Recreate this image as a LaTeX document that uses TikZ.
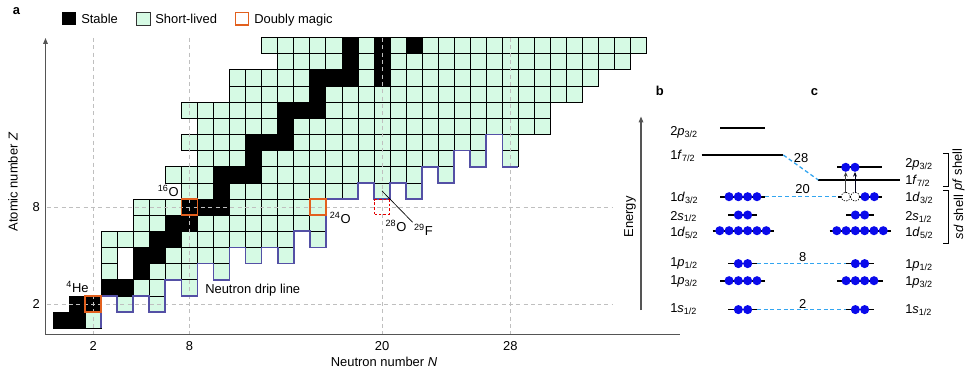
\documentclass[tikz,border=0pt]{standalone}
\usepackage{fontspec}
\setmainfont{Liberation Sans}
\usetikzlibrary{arrows.meta}
\definecolor{mint}{RGB}{214,250,228}
\definecolor{magic}{RGB}{226,96,30}
\definecolor{drip}{RGB}{84,80,165}
\definecolor{dotblue}{RGB}{10,10,235}
\definecolor{conn}{RGB}{50,165,240}
\definecolor{axisgray}{RGB}{85,85,85}
\tikzset{
  cellg/.style={fill=mint,draw=black,line width=0.55pt},
  cellb/.style={fill=black,draw=black,line width=0.55pt},
  magicbox/.style={draw=magic,line width=1.1pt},
  guide/.style={draw=gray!50,dash pattern=on 3pt off 2.5pt,line width=0.6pt},
  dripline/.style={draw=drip,line width=1.3pt,line join=miter},
  axisline/.style={draw=axisgray,line width=0.8pt},
  level/.style={draw=black,line width=1.3pt},
  electron/.style={fill=dotblue,draw=none},
  hole/.style={draw=black,dash pattern=on 1pt off 1pt,fill=white,line width=0.5pt},
  shellconn/.style={draw=conn,dash pattern=on 3pt off 2pt,line width=0.95pt},
  lbl/.style={inner sep=0pt,anchor=base west},
  clbl/.style={inner sep=0pt,anchor=base},
}
\newcommand\mrun[3]{\foreach \n in {#2,...,#3}{\path[cellg] (\n-0.5,#1-0.5) rectangle ++(1,1);}}
\newcommand\srun[3]{\foreach \n in {#2,...,#3}{\path[cellb] (\n-0.5,#1-0.5) rectangle ++(1,1);}}
\newcommand\edots[3]{\foreach \k in {1,...,#3}{\fill[electron] ({#1+(\k-(#3+1)/2)*9.3},#2) circle (3.4pt);}}
\begin{document}
\begin{tikzpicture}[x=0.75pt,y=-0.75pt,font=\fontsize{9.7}{11.6}\selectfont]
\useasboundingbox (0,0) rectangle (978,374);

% ---------- legend ----------
\node[lbl,font=\fontsize{9.7}{11.6}\selectfont\bfseries] (pa) at (12.7,15) {a};
\fill[black] (62,12) rectangle (75.5,25.3);
\node[lbl] (lgs) at (81,23.3) {Stable};
\draw[fill=mint,draw=black!80,line width=0.6pt] (136.5,12) rectangle (150,25.3);
\node[lbl] (lgl) at (155,23.3) {Short-lived};
\draw[fill=white,draw=magic,line width=1pt] (235.3,12.3) rectangle (248.5,25);
\node[lbl] (lgm) at (254,23.3) {Doubly magic};

% ---------- nuclide chart ----------
\begin{scope}[shift={(45.75pt,-252.225pt)},x=12.0375pt,y=12.1125pt]
\srun{1}{0}{1} \mrun{1}{2}{2}
\srun{2}{1}{2} \mrun{2}{4}{4} \mrun{2}{6}{6}
\srun{3}{3}{4} \mrun{3}{5}{6} \mrun{3}{8}{8}
\mrun{4}{3}{3} \srun{4}{5}{5} \mrun{4}{6}{8} \mrun{4}{10}{10}
\mrun{5}{3}{3} \srun{5}{5}{6} \mrun{5}{7}{10} \mrun{5}{12}{12} \mrun{5}{14}{14}
\mrun{6}{3}{5} \srun{6}{6}{7} \mrun{6}{8}{14} \mrun{6}{16}{16}
\mrun{7}{5}{6} \srun{7}{7}{8} \mrun{7}{9}{16}
\mrun{8}{5}{7} \srun{8}{8}{10} \mrun{8}{11}{16}
\mrun{9}{8}{9} \srun{9}{10}{10} \mrun{9}{11}{18} \mrun{9}{20}{20} \mrun{9}{22}{22}
\mrun{10}{7}{9} \srun{10}{10}{12} \mrun{10}{13}{22} \mrun{10}{24}{24}
\mrun{11}{9}{11} \srun{11}{12}{12} \mrun{11}{13}{24} \mrun{11}{26}{26} \mrun{11}{28}{28}
\mrun{12}{8}{11} \srun{12}{12}{14} \mrun{12}{15}{26} \mrun{12}{28}{28}
\mrun{13}{9}{13} \srun{13}{14}{14} \mrun{13}{15}{30}
\mrun{14}{8}{13} \srun{14}{14}{16} \mrun{14}{17}{30}
\mrun{15}{11}{15} \srun{15}{16}{16} \mrun{15}{17}{32}
\mrun{16}{11}{15} \srun{16}{16}{18} \mrun{16}{19}{19} \srun{16}{20}{20} \mrun{16}{21}{33}
\mrun{17}{14}{17} \srun{17}{18}{18} \mrun{17}{19}{19} \srun{17}{20}{20} \mrun{17}{21}{35}
\mrun{18}{13}{17} \srun{18}{18}{18} \mrun{18}{19}{19} \srun{18}{20}{20} \mrun{18}{21}{21} \srun{18}{22}{22} \mrun{18}{23}{36}
\coordinate (f29) at (20,9);
\end{scope}

% guide lines
\foreach \gx in {93.1,189.4,382,510.4}{\draw[guide] (\gx,38) -- (\gx,334);}
\foreach \gy in {304,207.1}{\draw[guide] (47,\gy) -- (612,\gy);}

\begin{scope}[shift={(45.75pt,-252.225pt)},x=12.0375pt,y=12.1125pt]
\draw[dripline] (2.5,0.5)--(2.5,2.5)--(3.5,2.5)--(3.5,1.5)--(4.5,1.5)--(4.5,2.5)--(5.5,2.5)--(5.5,1.5)--(6.5,1.5)--(6.5,3.5)--(7.5,3.5)--(7.5,2.5)--(8.5,2.5)--(8.5,4.5)--(9.5,4.5)--(9.5,3.5)--(10.5,3.5)--(10.5,5.5)--(11.5,5.5)--(11.5,4.5)--(12.5,4.5)--(12.5,5.5)--(13.5,5.5)--(13.5,4.5)--(14.5,4.5)--(14.5,6.5)--(15.5,6.5)--(15.5,5.5)--(16.5,5.5)--(16.5,8.5)--(18.5,8.5)--(18.5,9.5)--(19.5,9.5)--(19.5,8.5)--(20.5,8.5)--(20.5,9.5)--(21.5,9.5)--(21.5,8.5)--(22.5,8.5)--(22.5,10.5)--(23.5,10.5)--(23.5,9.5)--(24.5,9.5)--(24.5,11.5)--(25.5,11.5)--(25.5,10.5)--(26.5,10.5)--(26.5,12.5)--(27.5,12.5)--(27.5,10.5)--(28.5,10.5);
\draw[magicbox] (1.5,1.5) rectangle (2.5,2.5);
\draw[magicbox] (7.5,7.5) rectangle (8.5,8.5);
\draw[magicbox] (15.5,7.5) rectangle (16.5,8.5);
\draw[draw=red!90!black,dash pattern=on 2pt off 1.5pt,line width=0.7pt] (19.55,7.55) rectangle (20.45,8.45);
\end{scope}

% axes
\draw[axisline,-{Triangle[length=4.5pt,width=3.5pt]}] (45.5,334.5) -- (45.5,38);
\draw[axisline] (45,334.5) -- (680,334.5);
\node[clbl] (xt2) at (93.1,350.7) {2};
\node[clbl] (xt8) at (189.4,350.7) {8};
\node[clbl] (xt20) at (382,350.7) {20};
\node[clbl] (xt28) at (510.4,350.7) {28};
\node[inner sep=0pt,anchor=east] (yt2) at (40,304) {2};
\node[inner sep=0pt,anchor=east] (yt8) at (40,207.1) {8};
\node[clbl] (xlab) at (384,366.7) {Neutron number \textit{N}};
\node[rotate=90,inner sep=0pt] (ylab) at (13,182) {Atomic number \textit{Z}};

% chart labels
\node[clbl] (he4) at (77.5,292.3) {\textsuperscript{4}He};
\node[clbl] (o16) at (168.3,196.7) {\textsuperscript{16}O};
\node[clbl] (o24) at (340.3,223.3) {\textsuperscript{24}O};
\node[clbl] (o28) at (396,231.7) {\textsuperscript{28}O};
\node[clbl] (f29lbl) at (423.5,235) {\textsuperscript{29}F};
\draw[black,line width=0.5pt] (f29) -- ([xshift=-1pt,yshift=1pt]f29lbl.north west);
\node[lbl] (drip) at (205,293.3) {Neutron drip line};

% ---------- panels b and c ----------
\node[lbl,font=\fontsize{9.7}{11.6}\selectfont\bfseries] (pb) at (655.7,96) {b};
\node[lbl,font=\fontsize{9.7}{11.6}\selectfont\bfseries] (pc) at (810.7,96) {c};
\draw[axisline,-{Triangle[length=4.5pt,width=3.5pt]}] (641,310) -- (641,116.5);
\node[rotate=90,inner sep=0pt] (energy) at (630,217) {Energy};

% level coordinates, panel b
\coordinate (b2pL) at (720,128);  \coordinate (b2pR) at (765,128);
\coordinate (b1fL) at (701.7,155);  \coordinate (b1fR) at (783.3,155);
\coordinate (b1dtL) at (720,196.7); \coordinate (b1dtR) at (765,196.7);
\coordinate (b2sL) at (728.3,215);  \coordinate (b2sR) at (757,215);
\coordinate (b1dfL) at (712.5,230.7); \coordinate (b1dfR) at (773.5,230.7);
\coordinate (b1poL) at (728.3,263.6); \coordinate (b1poR) at (757,263.6);
\coordinate (b1ptL) at (720,280.7); \coordinate (b1ptR) at (765,280.7);
\coordinate (b1sL) at (728.3,309.6); \coordinate (b1sR) at (757,309.6);
% panel c
\coordinate (c2pL) at (837.3,167.3); \coordinate (c2pR) at (881.7,167.3);
\coordinate (c1fL) at (818.3,180);   \coordinate (c1fR) at (900,180);
\coordinate (c1dtL) at (838.3,196.7); \coordinate (c1dtR) at (881.7,196.7);
\coordinate (c2sL) at (846,215);     \coordinate (c2sR) at (874,215);
\coordinate (c1dfL) at (829.5,230.7); \coordinate (c1dfR) at (890.5,230.7);
\coordinate (c1poL) at (846,263.6);  \coordinate (c1poR) at (874,263.6);
\coordinate (c1ptL) at (837.3,280.7); \coordinate (c1ptR) at (882.7,280.7);
\coordinate (c1sL) at (846,309.6);   \coordinate (c1sR) at (874,309.6);

\foreach \a/\b in {b2pL/b2pR,b1fL/b1fR,b1dtL/b1dtR,b2sL/b2sR,b1dfL/b1dfR,b1poL/b1poR,b1ptL/b1ptR,b1sL/b1sR,
  c2pL/c2pR,c1fL/c1fR,c1dtL/c1dtR,c2sL/c2sR,c1dfL/c1dfR,c1poL/c1poR,c1ptL/c1ptR,c1sL/c1sR}{\draw[level] (\a) -- (\b);}

% shell gaps
\draw[shellconn] (b1fR) -- (c1fL);
\draw[shellconn] (b1dtR) -- (c1dtL);
\draw[shellconn] (b1poR) -- (c1poL);
\draw[shellconn] (b1sR) -- (c1sL);
\node[clbl] (g28) at (801,162.7) {28};
\node[clbl] (g20) at (802.5,194) {20};
\node[clbl] (g8) at (802.7,261.7) {8};
\node[clbl] (g2) at (802.7,308.3) {2};

% electrons, panel b
\edots{743}{196.7}{4}
\edots{743}{215}{2}
\edots{743}{230.7}{6}
\edots{743}{263.6}{2}
\edots{743}{280.7}{4}
\edots{743}{309.6}{2}
% electrons, panel c
\edots{850.35}{167.3}{2}
\draw[hole] (845.7,196.7) circle (3.4pt);
\draw[hole] (855,196.7) circle (3.4pt);
\edots{869.65}{196.7}{2}
\edots{860}{215}{2}
\edots{860}{230.7}{6}
\edots{860}{263.6}{2}
\edots{860}{280.7}{4}
\edots{860}{309.6}{2}
\draw[black!75,line width=0.6pt,-{Stealth[length=3.5pt,width=3pt]}] (845.7,193) -- (845.7,172);
\draw[black!90!blue,line width=0.6pt,-{Stealth[length=3.5pt,width=3pt]}] (855,193) -- (855,172);

% level labels, panel b
\node[lbl] (lb1) at (670,135.7) {2\textit{p}\textsubscript{3/2}};
\node[lbl] (lb2) at (670,160) {1\textit{f}\textsubscript{7/2}};
\node[lbl] (lb3) at (670,201.7) {1\textit{d}\textsubscript{3/2}};
\node[lbl] (lb4) at (670,220) {2\textit{s}\textsubscript{1/2}};
\node[lbl] (lb5) at (670,236.7) {1\textit{d}\textsubscript{5/2}};
\node[lbl] (lb6) at (670,266.7) {1\textit{p}\textsubscript{1/2}};
\node[lbl] (lb7) at (670,284) {1\textit{p}\textsubscript{3/2}};
\node[lbl] (lb8) at (670,312.7) {1\textit{s}\textsubscript{1/2}};
% level labels, panel c
\node[lbl] (lc1) at (905,167.7) {2\textit{p}\textsubscript{3/2}};
\node[lbl] (lc2) at (905,185) {1\textit{f}\textsubscript{7/2}};
\node[lbl] (lc3) at (905,201.7) {1\textit{d}\textsubscript{3/2}};
\node[lbl] (lc4) at (905,220.7) {2\textit{s}\textsubscript{1/2}};
\node[lbl] (lc5) at (905,236.7) {1\textit{d}\textsubscript{5/2}};
\node[lbl] (lc6) at (905,268.3) {1\textit{p}\textsubscript{1/2}};
\node[lbl] (lc7) at (905,285) {1\textit{p}\textsubscript{3/2}};
\node[lbl] (lc8) at (905,313.3) {1\textit{s}\textsubscript{1/2}};

% shell brackets
\draw[black,line width=0.6pt] (943.3,153.3) -- (948.3,153.3) -- (948.3,186.7) -- (943.3,186.7);
\draw[black,line width=0.6pt] (943.3,190.7) -- (948.3,190.7) -- (948.3,243.3) -- (943.3,243.3);
\node[rotate=90,inner sep=0pt] (pfs) at (958.5,169.5) {\textit{pf} shell};
\node[rotate=90,inner sep=0pt] (sds) at (958.5,217) {\textit{sd} shell};
\end{tikzpicture}
\end{document}
